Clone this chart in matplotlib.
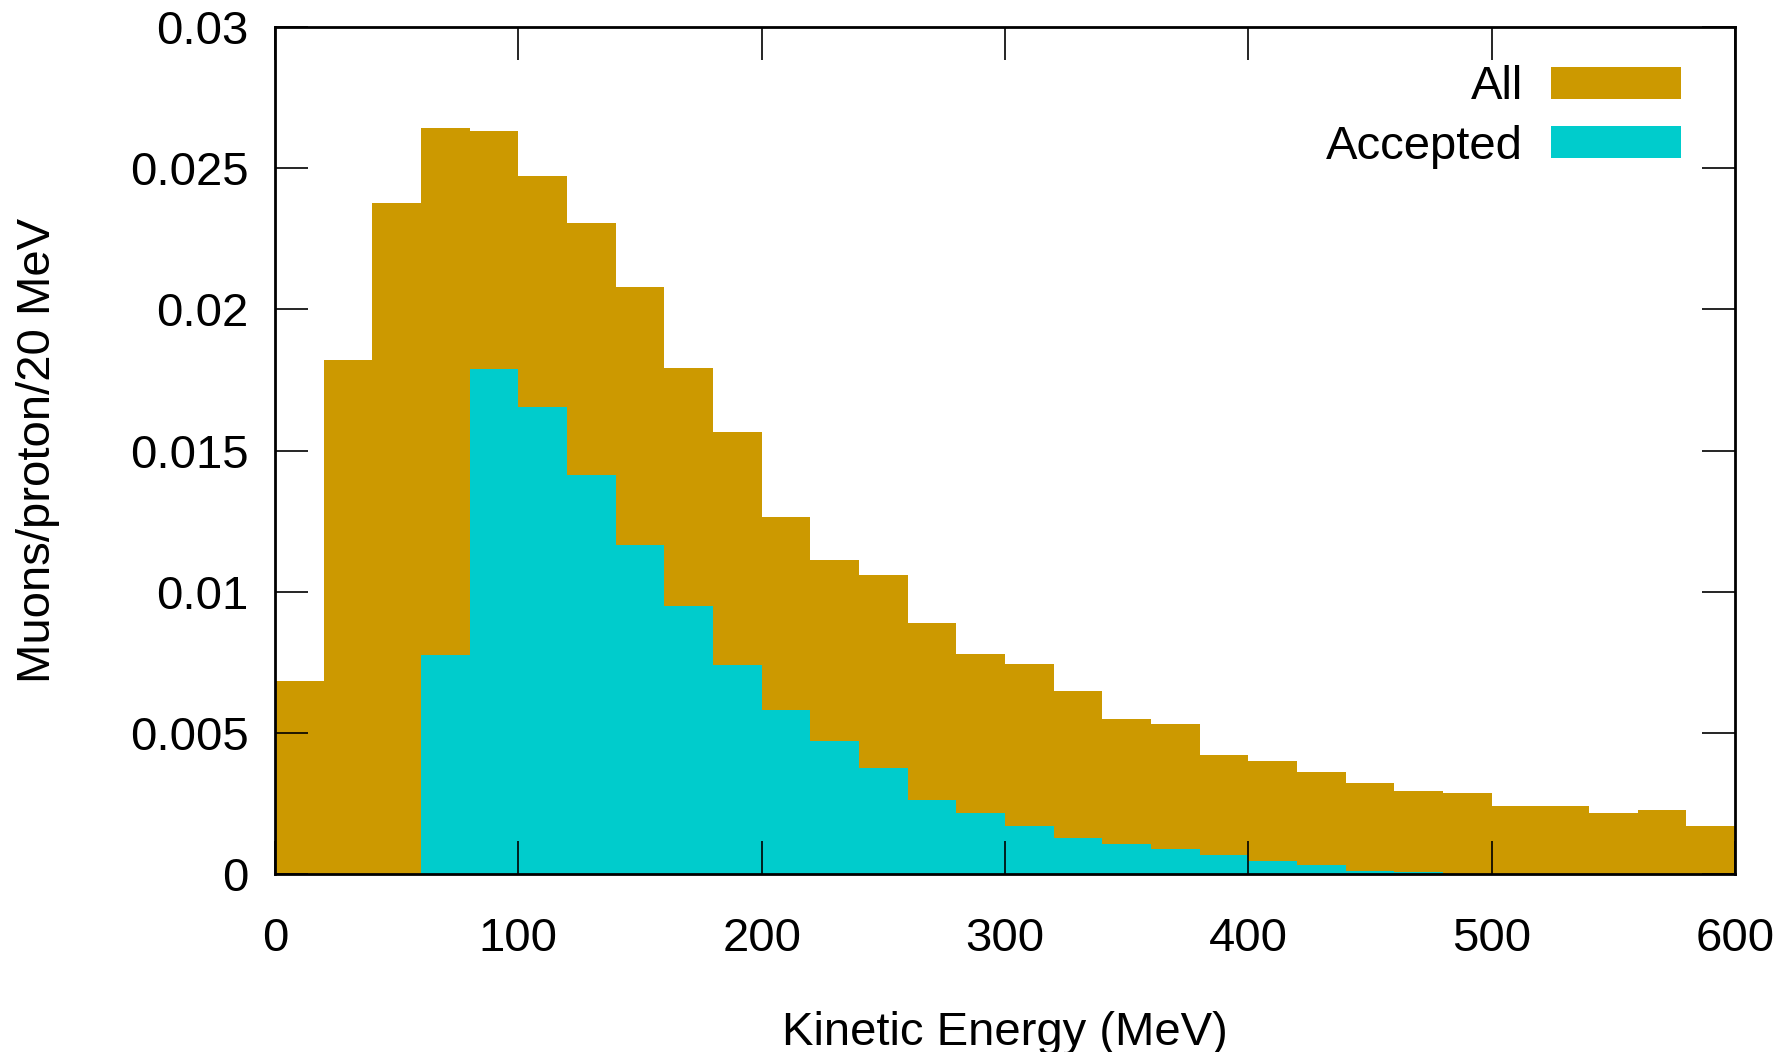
import numpy as np
import matplotlib
matplotlib.use("Agg")
import matplotlib.pyplot as plt

# bin edges, MeV (20 MeV bins)
edges = np.arange(0, 620, 20)

# muons/proton/20 MeV
all_muons = [0.00685, 0.0182, 0.02376, 0.02642, 0.0263, 0.02472, 0.02307, 0.02078,
             0.01792, 0.01566, 0.01264, 0.01111, 0.01059, 0.0089, 0.00781, 0.00745,
             0.00648, 0.00548, 0.00532, 0.00423, 0.0040, 0.00361, 0.00322, 0.00294,
             0.00287, 0.00241, 0.00241, 0.00216, 0.00227, 0.0017]
accepted = [0.0, 0.0, 0.0, 0.00777, 0.01788, 0.01655, 0.01413, 0.01164,
            0.0095, 0.00741, 0.0058, 0.00471, 0.00374, 0.00262, 0.00217, 0.00169,
            0.00129, 0.00105, 0.00089, 0.00068, 0.00045, 0.00032, 0.0001, 0.00007,
            0.0, 0.0, 0.0, 0.0, 0.0, 0.0]

x_ticks = [0, 100, 200, 300, 400, 500, 600]
y_ticks = [0, 0.005, 0.01, 0.015, 0.02, 0.025, 0.03]
y_tick_labels = ["0", "0.005", "0.01", "0.015", "0.02", "0.025", "0.03"]

plt.rcParams['font.family'] = ['Liberation Sans', 'DejaVu Sans']
fs = 34

fig = plt.figure(figsize=(17.83, 10.52), dpi=100)
ax = fig.add_axes([0.1542, 0.1692, 0.8189, 0.8051])

ax.stairs(all_muons, edges, fill=True, color='#cc9900', label='All')
ax.stairs(accepted, edges, fill=True, color='#00cccc', label='Accepted')

ax.set_xlim(0, 600)
ax.set_ylim(0, 0.03)
ax.set_xticks(x_ticks)
ax.set_yticks(y_ticks)
ax.set_yticklabels(y_tick_labels)
ax.tick_params(direction='in', length=24, width=1.2, top=True, right=True,
               labelsize=fs, colors='black')
ax.tick_params(axis='x', pad=31)
ax.tick_params(axis='y', pad=19)
for s in ax.spines.values():
    s.set_linewidth(2)
    s.set_zorder(5)

ax.set_xlabel('Kinetic Energy (MeV)', fontsize=fs, labelpad=36)
ax.set_ylabel('Muons/proton/20 MeV', fontsize=fs, labelpad=50)

ax.legend(loc='upper right', frameon=False, markerfirst=False, fontsize=fs,
          handlelength=2.75, handleheight=0.66, handletextpad=0.6,
          labelspacing=0.33, borderaxespad=0.5, bbox_to_anchor=(0.992, 1.005))

fig.savefig('out.png', dpi=100)
